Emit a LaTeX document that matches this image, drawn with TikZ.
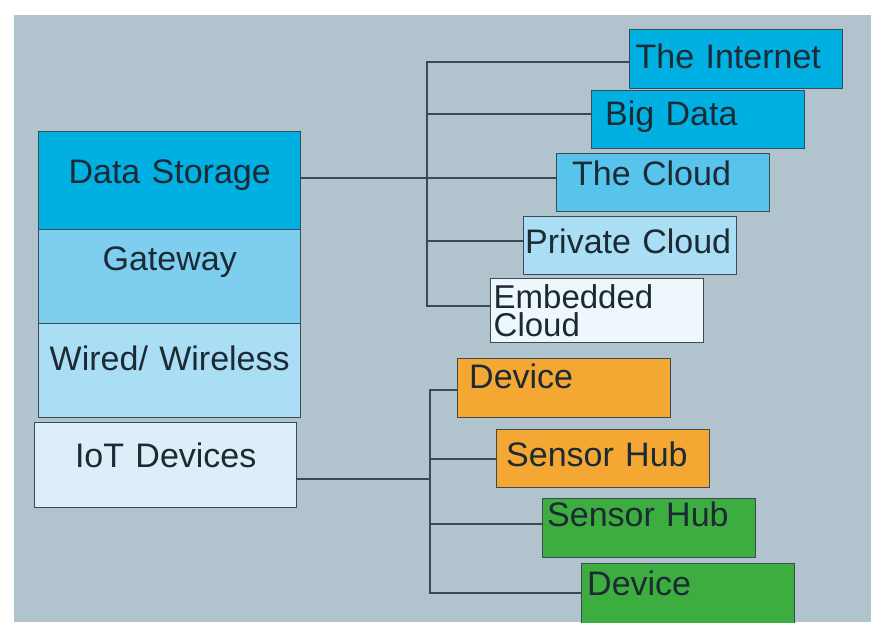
\documentclass[tikz,border=0pt]{standalone}
\usepackage{fontspec}
\setmainfont{Liberation Sans}[WordSpace=0.8]
\definecolor{panel}{HTML}{B1C3CD}
\definecolor{deep}{HTML}{00B0E2}
\definecolor{mid}{HTML}{58C4EC}
\definecolor{gatec}{HTML}{7ECFEF}
\definecolor{pale}{HTML}{A9DEF4}
\definecolor{iotc}{HTML}{DCEEF8}
\definecolor{embc}{HTML}{EEF7FC}
\definecolor{orng}{HTML}{F5A733}
\definecolor{grn}{HTML}{3DAD3F}
\definecolor{edge}{HTML}{3B4A54}
\definecolor{ink}{HTML}{1C2A33}
\tikzset{
  box/.style={draw=edge, line width=1.4pt, rectangle, anchor=north west, inner sep=0pt, text=ink, font=\fontsize{34}{26}\selectfont},
  stack/.style={box, text width=262pt, align=center},
  rbox/.style={box, text width=210pt, align=left, inner xsep=1.5pt},
  wire/.style={draw=edge, line width=1.6pt},
}
\begin{document}
\begin{tikzpicture}[x=1pt,y=-1pt]
\useasboundingbox (0,0) rectangle (871,622);
\clip (0,0) rectangle (871,622);
\fill[white] (0,0) rectangle (871,622);
\fill[panel] (14,15) rectangle (871,622);

% layer stack
\node[stack, fill=deep, text height=52pt, text depth=46pt] (store) at (38,131) {Data Storage};
\node[stack, fill=gatec, text height=41pt, text depth=53pt] (gate) at (38,229) {Gateway};
\node[stack, fill=pale, text height=47pt, text depth=47pt] (wired) at (38,323) {Wired/ Wireless};
\node[stack, fill=iotc, text height=45pt, text depth=40pt] (iot) at (34,422) {IoT Devices};

% storage side
\node[rbox, fill=deep, text height=39pt, text depth=20pt] (inet) at (629,29) {\hspace*{4.5pt}The Internet};
\node[rbox, fill=deep, text height=35pt, text depth=23pt] (bigdata) at (591,90) {\hspace*{12pt}Big Data};
\node[rbox, fill=mid, text height=32pt, text depth=26pt] (cloud) at (556,153) {\hspace*{14pt}The Cloud};
\node[rbox, fill=pale, text height=37pt, text depth=21pt] (private) at (523,216) {Private Cloud};
\node[rbox, fill=embc, text height=30pt, text depth=34pt, font=\fontsize{33}{28}\selectfont] (embed) at (490,278) {\hspace*{1.5pt}Embedded\\\hspace*{1.5pt}Cloud};

% device side
\node[rbox, fill=orng, text height=30pt, text depth=29pt] (dev1) at (457,358) {\hspace*{10pt}Device};
\node[rbox, fill=orng, text height=37pt, text depth=21pt] (hub1) at (496,429) {\hspace*{8pt}Sensor Hub};
\node[rbox, fill=grn, text height=28pt, text depth=31pt] (hub2) at (542,498) {\hspace*{3pt}Sensor Hub};
\node[rbox, fill=grn, text height=32pt, text depth=40pt] (dev2) at (581,563) {\hspace*{4pt}Device};

% trunks
\coordinate (ttop) at (427,61);
\coordinate (btop) at (430,389);
\foreach \n/\s in {inet/-2.5,bigdata/6,cloud/5,private/5,embed/5}
  \draw[wire] ([yshift=\s pt]\n.west) -| (ttop);
\foreach \n/\s in {dev1/-1.5,hub1/0,hub2/4.5,dev2/7}
  \draw[wire] ([yshift=\s pt]\n.west) -| (btop);
\draw[wire] ([yshift=3pt]store.east) -- ([yshift=5pt]cloud.west);
\draw[wire] ([yshift=-13.5pt]iot.east) -| (btop);
\end{tikzpicture}
\end{document}
